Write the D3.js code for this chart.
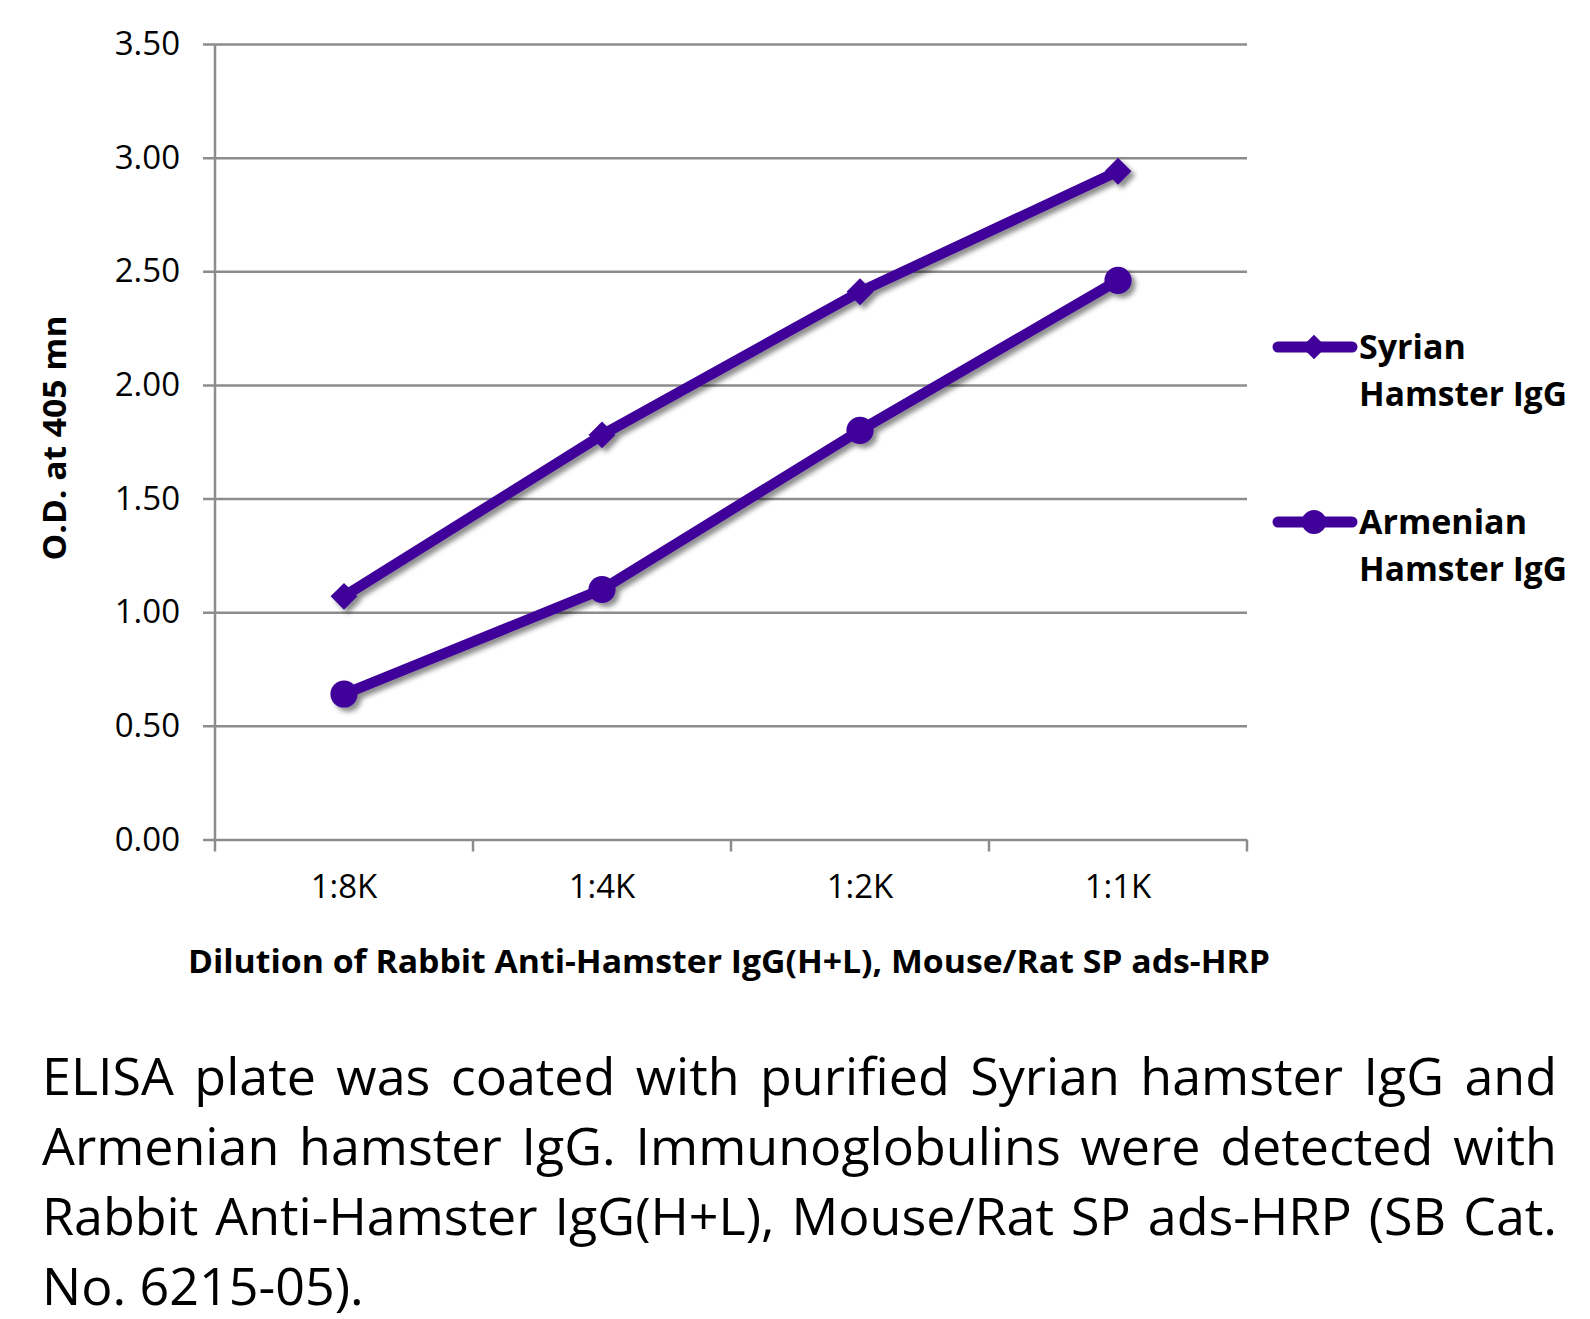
<!DOCTYPE html>
<html>
<head>
<meta charset="utf-8">
<script src="https://cdn.jsdelivr.net/npm/d3@7"></script>
<style>
body { margin: 0; background: #fff; }
text { font-family: "Open Sans", sans-serif; fill: #000; }
</style>
</head>
<body>
<div id="chart"></div>
<script>
// data
var categories = ["1:8K", "1:4K", "1:2K", "1:1K"];
var syrian = [1.07, 1.78, 2.41, 2.94];
var armenian = [0.64, 1.10, 1.80, 2.46];
var seriesNames = [["Syrian", "Hamster IgG"], ["Armenian", "Hamster IgG"]];
var yTicks = [0, 0.5, 1, 1.5, 2, 2.5, 3, 3.5];
var yTitle = "O.D. at 405 mn";
var xTitle = "Dilution of Rabbit Anti-Hamster IgG(H+L), Mouse/Rat SP ads-HRP";
var captionLines = [
  "ELISA plate was coated with purified Syrian hamster IgG and",
  "Armenian hamster IgG.  Immunoglobulins were detected with",
  "Rabbit Anti-Hamster IgG(H+L), Mouse/Rat SP ads-HRP (SB Cat.",
  "No. 6215-05)."
];

var width = 1590, height = 1319;
var plotLeft = 215, plotRight = 1247, plotTop = 44, plotBottom = 839.5;
var purple = "#40009a";

var svg = d3.select("#chart")
    .append("svg")
    .attr("width", width)
    .attr("height", height);

var defs = svg.append("defs");
defs.append("filter")
    .attr("id", "shadow")
    .attr("x", "-20%").attr("y", "-20%")
    .attr("width", "140%").attr("height", "140%")
  .append("feDropShadow")
    .attr("dx", 4).attr("dy", 4)
    .attr("stdDeviation", 2.5)
    .attr("flood-color", "#000")
    .attr("flood-opacity", 0.45);

var x = d3.scaleBand().domain(categories).range([plotLeft, plotRight]);
var y = d3.scaleLinear().domain([0, 3.5]).range([plotBottom, plotTop]);

// gridlines + y labels
var yAxis = d3.axisLeft(y)
    .tickValues(yTicks)
    .tickFormat(d3.format(".2f"))
    .tickSize(-(plotRight - plotLeft + 12))
    .tickPadding(23);
var gy = svg.append("g")
    .attr("transform", "translate(" + (plotLeft - 12) + ",0)")
    .call(yAxis);
gy.select(".domain").remove();
gy.selectAll(".tick line").attr("stroke", "#8c8c8c").attr("stroke-width", 2.5);
gy.selectAll(".tick text")
    .attr("font-size", 33)
    .attr("font-family", "'Open Sans', sans-serif")
    .attr("fill", "#000");

// y axis line
svg.append("line")
    .attr("x1", plotLeft).attr("x2", plotLeft)
    .attr("y1", y(3.5)).attr("y2", y(0))
    .attr("stroke", "#8c8c8c").attr("stroke-width", 2.5);

// x axis ticks at band edges
var edges = categories.map(function (c) { return x(c); });
edges.push(x(categories[categories.length - 1]) + x.bandwidth());
svg.selectAll(".xtick")
    .data(edges)
    .enter()
    .append("line")
    .attr("class", "xtick")
    .attr("x1", function (d) { return d; })
    .attr("x2", function (d) { return d; })
    .attr("y1", y(0))
    .attr("y2", y(0) + 12)
    .attr("stroke", "#8c8c8c").attr("stroke-width", 2.5);

var xAxis = d3.axisBottom(x).tickSize(0).tickPadding(0);
var gx = svg.append("g")
    .attr("transform", "translate(0," + y(0) + ")")
    .call(xAxis);
gx.select(".domain").remove();
gx.selectAll(".tick text")
    .attr("font-size", 33)
    .attr("font-family", "'Open Sans', sans-serif")
    .attr("fill", "#000")
    .attr("dy", null)
    .attr("y", 58);

// series
var cx = function (d, i) { return x(categories[i]) + x.bandwidth() / 2; };
var line = d3.line()
    .x(cx)
    .y(function (d) { return y(d); });

var diamond = d3.symbol().type(d3.symbolSquare).size(360);
var circle = d3.symbol().type(d3.symbolCircle).size(580);

var plot = svg.append("g").attr("filter", "url(#shadow)");

[syrian, armenian].forEach(function (vals, k) {
  var g = plot.append("g");
  g.append("path")
      .attr("d", line(vals))
      .attr("fill", "none")
      .attr("stroke", purple)
      .attr("stroke-width", 10.5)
      .attr("stroke-linejoin", "round");
  g.selectAll("path.mark")
      .data(vals)
      .enter()
      .append("path")
      .attr("class", "mark")
      .attr("d", k == 0 ? diamond : circle)
      .attr("transform", function (d, i) {
        return "translate(" + cx(d, i) + "," + y(d) + ")" + (k == 0 ? " rotate(45)" : "");
      })
      .attr("fill", purple);
});

// legend
var legY = [347, 522];
seriesNames.forEach(function (name, k) {
  var g = svg.append("g").attr("transform", "translate(0," + legY[k] + ")");
  g.append("line")
      .attr("x1", 1278).attr("x2", 1352)
      .attr("stroke", purple).attr("stroke-width", 11)
      .attr("stroke-linecap", "round");
  g.append("path")
      .attr("d", k == 0 ? d3.symbol().type(d3.symbolSquare).size(300)() : d3.symbol().type(d3.symbolCircle).size(460)())
      .attr("transform", "translate(1314,0)" + (k == 0 ? " rotate(45)" : ""))
      .attr("fill", purple);
  g.selectAll("text")
      .data(name)
      .enter()
      .append("text")
      .attr("x", 1359)
      .attr("y", function (d, i) { return 12 + i * 47; })
      .attr("font-size", 34)
      .attr("font-weight", "bold")
      .attr("textLength", function (d, i) { return i == 1 ? 208 : null; })
      .attr("lengthAdjust", "spacingAndGlyphs")
      .text(function (d) { return d; });
});

// axis titles
svg.append("text")
    .attr("transform", "translate(66,438) rotate(-90)")
    .attr("text-anchor", "middle")
    .attr("font-size", 32)
    .attr("font-weight", "bold")
    .attr("textLength", 245)
    .attr("lengthAdjust", "spacingAndGlyphs")
    .text(yTitle);

svg.append("text")
    .attr("x", 188)
    .attr("y", 973)
    .attr("font-size", 33)
    .attr("font-weight", "bold")
    .attr("textLength", 1082)
    .attr("lengthAdjust", "spacingAndGlyphs")
    .text(xTitle);

// caption, justified like the original
var capLeft = 42, capRight = 1557;
captionLines.forEach(function (ln, i) {
  var t = svg.append("text")
      .attr("y", 1095 + i * 70)
      .attr("font-size", 52);
  var words = ln.split(/\s+/);
  if (i == captionLines.length - 1) {
    t.attr("x", capLeft).text(ln);
    return;
  }
  var spans = words.map(function (w) {
    return t.append("tspan").text(w);
  });
  var widths = spans.map(function (s) { return s.node().getComputedTextLength(); });
  var gap = (capRight - capLeft - d3.sum(widths)) / (words.length - 1);
  var pos = capLeft;
  spans.forEach(function (s, j) {
    s.attr("x", pos);
    pos += widths[j] + gap;
  });
});
</script>
</body>
</html>
